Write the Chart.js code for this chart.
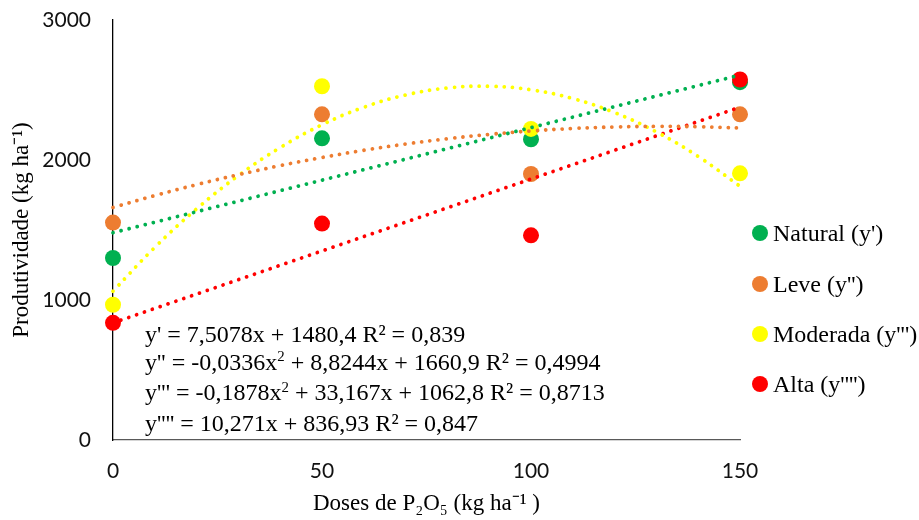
<!DOCTYPE html>
<html>
<head>
<meta charset="utf-8">
<script src="https://cdn.jsdelivr.net/npm/chart.js@4"></script>
<style>
  html, body { margin: 0; padding: 0; background: #fff; }
  #wrap { position: relative; width: 919px; height: 520px; }
  canvas { position: absolute; left: 0; top: 0; }
  #eq { position: absolute; left: 145px; top: 321px; font-family: "Liberation Serif", serif; font-size: 24px; line-height: 27.5px; color: #000; white-space: nowrap; }
  #eq sup { font-size: 0.62em; vertical-align: 0; position: relative; top: -0.55em; }
  #legend { position: absolute; left: 752px; top: 0; font-family: "Liberation Serif", serif; font-size: 24px; color: #000; }
  .li { position: absolute; left: 0; height: 28px; line-height: 28px; white-space: nowrap; }
  .dot { position: absolute; left: 0; top: 6px; width: 16px; height: 16px; border-radius: 50%; }
  .lt { position: absolute; left: 21px; top: 0; }
</style>
</head>
<body>
<div id="wrap">
  <canvas id="c" width="919" height="520"></canvas>
  <div id="eq"></div>
  <div id="legend"></div>
</div>
<script>
// ---- data ----
const doses = [0, 50, 100, 150];
const seriesNames = ["Natural (y')", "Leve (y'')", "Moderada (y''')", "Alta (y'''')"];
const seriesColors = ["#00B050", "#ED7D31", "#FFFF00", "#FF0000"];
const natural = [1300, 2155, 2148, 2556];
const leve = [1553, 2326, 1900, 2326];
const moderada = [966, 2527, 2222, 1905];
const alta = [837, 1546, 1462, 2575];

// trendlines
const trendXLinear = [0, 150];
const trendNatural = [1480.4, 2606.6];
const trendAlta = [836.9, 2377.6];
const trendXCurve = [0, 10, 20, 30, 40, 50, 60, 70, 80, 90, 100, 110, 120, 130, 140, 150];
const trendLeve = [1660.9, 1745.8, 1824.0, 1895.4, 1960.1, 2018.1, 2069.4, 2114.0, 2151.8, 2182.9, 2207.3, 2225.0, 2236.0, 2240.2, 2237.8, 2228.6];
const trendModerada = [1062.8, 1375.7, 1651.0, 1888.8, 2089.0, 2251.7, 2376.7, 2464.3, 2514.2, 2526.7, 2501.5, 2438.8, 2338.5, 2200.7, 2025.3, 1812.4];

const yTicks = [0, 1000, 2000, 3000];
const xTicks = [0, 50, 100, 150];

const equations = [
  "y' = 7,5078x + 1480,4 R² = 0,839",
  "y'' = -0,0336x<sup>2</sup> + 8,8244x + 1660,9 R² = 0,4994",
  "y''' = -0,1878x<sup>2</sup> + 33,167x + 1062,8 R² = 0,8713",
  "y'''' = 10,271x + 836,93 R² = 0,847"
];
const xTitle = "Doses de P₂O₅ (kg ha⁻¹ )";
const yTitle = "Produtividade (kg ha⁻¹)";

// ---- build ----
const pts = (xs, ys) => xs.map((x, i) => ({ x: x, y: ys[i] }));
const pointValues = [natural, leve, moderada, alta];
const trendSets = [
  pts(trendXLinear, trendNatural),
  pts(trendXCurve, trendLeve),
  pts(trendXCurve, trendModerada),
  pts(trendXLinear, trendAlta)
];

const datasets = [];
// trendlines drawn on top
trendSets.forEach((d, i) => {
  datasets.push({
    label: 'trend ' + seriesNames[i],
    data: d,
    showLine: true,
    borderColor: seriesColors[i],
    backgroundColor: seriesColors[i],
    borderWidth: 3.8,
    borderDash: [0.01, 8.3],
    borderCapStyle: 'round',
    pointRadius: 0,
    pointHoverRadius: 0,
    tension: d.length > 2 ? 0.4 : 0,
    clip: false,
    order: i
  });
});
// markers (later series on top)
pointValues.forEach((v, i) => {
  datasets.push({
    label: seriesNames[i],
    data: pts(doses, v),
    showLine: false,
    pointRadius: 8,
    pointHoverRadius: 8,
    pointBackgroundColor: seriesColors[i],
    pointBorderColor: seriesColors[i],
    pointBorderWidth: 0,
    clip: false,
    order: 10 - i
  });
});

new Chart(document.getElementById('c'), {
  type: 'scatter',
  data: { datasets: datasets },
  options: {
    responsive: false,
    animation: false,
    events: [],
    layout: { padding: { top: 20, right: 179, left: 0, bottom: 0 } },
    plugins: { legend: { display: false }, tooltip: { enabled: false } },
    scales: {
      x: {
        type: 'linear', min: 0, max: 150,
        afterBuildTicks: s => { s.ticks = xTicks.map(v => ({ value: v })); },
        afterFit: s => { s.height = 80; s.paddingLeft = 0; s.paddingRight = 0; },
        grid: { display: false, drawTicks: false },
        border: { display: true, color: '#595959', width: 1.3 },
        ticks: { padding: 19, color: '#111', font: { family: 'Lato', size: 21 }, callback: v => String(v) },
        title: { display: true, text: xTitle, color: '#000', font: { family: 'Liberation Serif', size: 23 }, padding: { top: 0, bottom: 2 } }
      },
      y: {
        type: 'linear', min: 0, max: 3000,
        afterBuildTicks: s => { s.ticks = yTicks.map(v => ({ value: v })); },
        afterFit: s => { s.width = 113; s.paddingTop = 0; s.paddingBottom = 0; },
        grid: { display: false, drawTicks: false },
        border: { display: true, color: '#000', width: 1.3 },
        ticks: { padding: 22, color: '#111', font: { family: 'Lato', size: 21 }, callback: v => String(v) },
        title: { display: true, text: yTitle, color: '#000', font: { family: 'Liberation Serif', size: 23 }, padding: { top: 8, bottom: 0 } }
      }
    }
  }
});

// equations text
document.getElementById('eq').innerHTML = equations.map(e => '<div>' + e + '</div>').join('');
// legend
const legendTops = [233, 284, 334, 384];
document.getElementById('legend').innerHTML = seriesNames.map((n, i) =>
  '<div class="li" style="top:' + (legendTops[i] - 14) + 'px"><span class="dot" style="background:' + seriesColors[i] + '"></span><span class="lt">' + n + '</span></div>'
).join('');
</script>
</body>
</html>
